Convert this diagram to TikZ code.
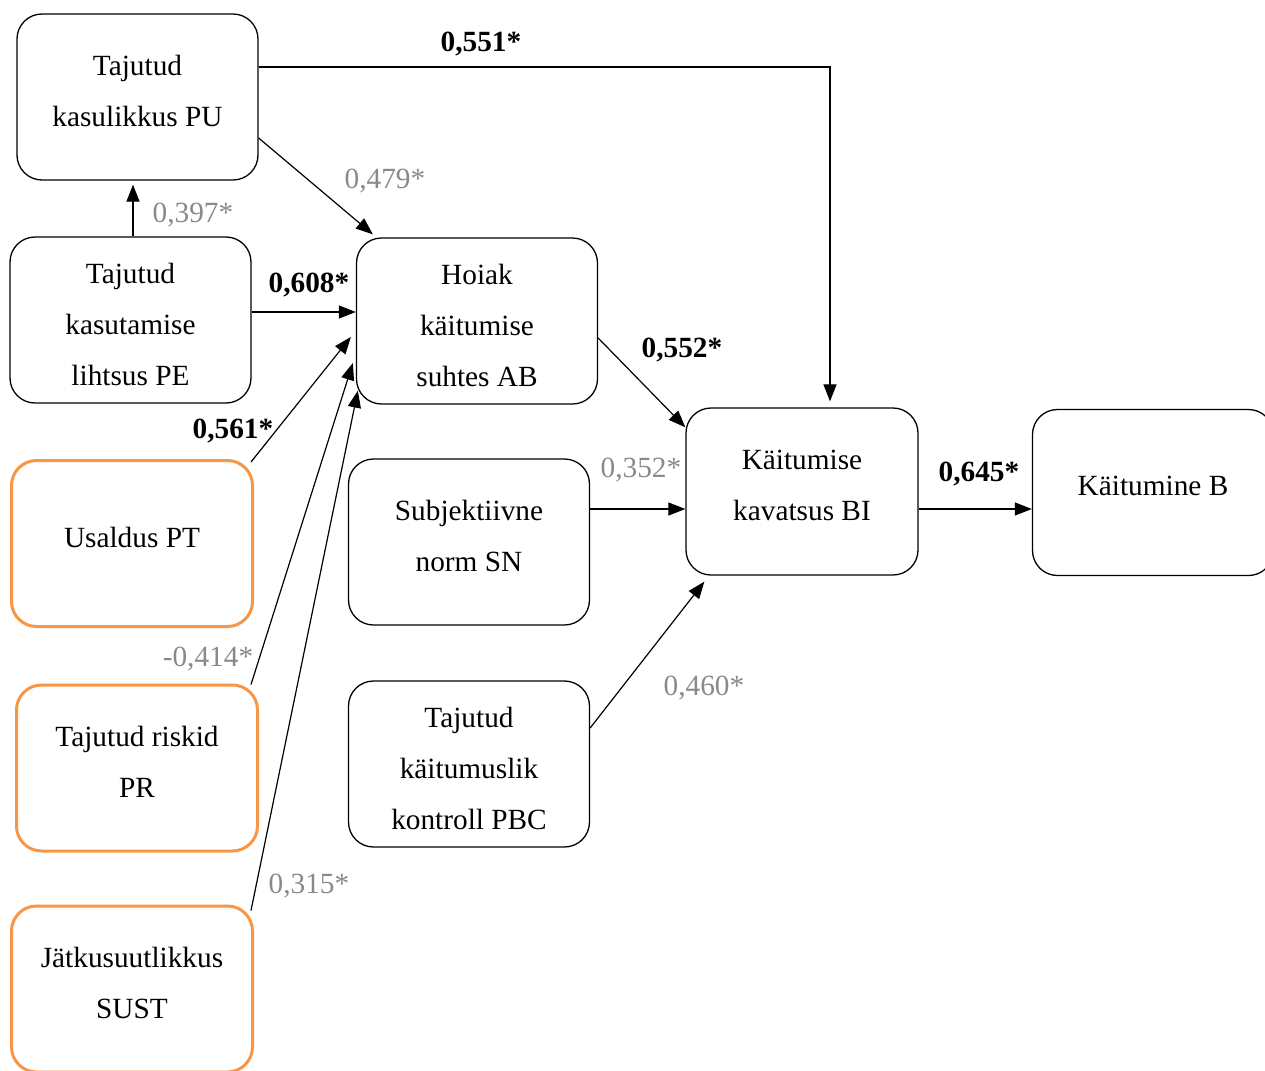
\documentclass[tikz,border=0pt]{standalone}
\usepackage{fontspec}
\setmainfont{Liberation Serif}
\usetikzlibrary{arrows.meta,calc}
\definecolor{coefgray}{RGB}{137,137,137}
\definecolor{boxorange}{RGB}{247,150,70}
\begin{document}
\begin{tikzpicture}[x=0.5pt,y=-0.5pt,
  box/.style={draw=black,line width=0.65pt,rounded corners=12.5pt,
    minimum width=120.5pt,minimum height=83pt,inner sep=0pt},
  obox/.style={box,draw=boxorange,line width=1.5pt},
  txt/.style={align=center,inner sep=0pt,font=\fontsize{14.65pt}{25.5pt}\selectfont},
  link/.style={line width=0.6pt,-{Triangle[length=8.5pt,width=6.5pt]}},
  coef/.style={inner sep=0pt,text=coefgray,font=\fontsize{14.65pt}{17pt}\selectfont},
  bcoef/.style={inner sep=0pt,font=\fontsize{14.65pt}{17pt}\selectfont\bfseries}]
\useasboundingbox (0,0) rectangle (1265,1071);

% construct boxes
\node[box]  (PU)   at (137.5,97)  {};
\node[box]  (PE)   at (130.5,320) {};
\node[box]  (AB)   at (477,321)   {};
\node[obox] (PT)   at (132,543.5) {};
\node[obox] (PR)   at (137,768)   {};
\node[obox] (SUST) at (132,989)   {};
\node[box]  (SN)   at (469,542)   {};
\node[box]  (PBC)  at (469,764)   {};
\node[box, minimum width=116pt, minimum height=83.5pt] (BI) at (802,491.5) {};
\node[box]  (B)    at (1153,492.5) {};

% box captions
\node[txt] (PUt)   at ($(PU.center)+(0,-6.5)$)  {Tajutud\\kasulikkus PU};
\node[txt] (PEt)   at ($(PE.center)+(0,4.5)$)   {Tajutud\\kasutamise\\lihtsus PE};
\node[txt] (ABt)   at ($(AB.center)+(0,4.5)$)   {Hoiak\\käitumise\\suhtes AB};
\node[txt] (PTt)   at ($(PT.center)+(0,-6.5)$)  {Usaldus PT};
\node[txt] (PRt)   at ($(PR.center)+(0,-6.5)$)  {Tajutud riskid\\PR};
\node[txt] (SUSTt) at ($(SUST.center)+(0,-6)$)  {Jätkusuutlikkus\\SUST};
\node[txt] (SNt)   at ($(SN.center)+(0,-6.5)$)  {Subjektiivne\\norm SN};
\node[txt] (PBCt)  at ($(PBC.center)+(0,4.5)$)  {Tajutud\\käitumuslik\\kontroll PBC};
\node[txt] (BIt)   at ($(BI.center)+(0,-6)$)    {Käitumise\\kavatsus BI};
\node[txt] (Bt)    at ($(B.center)+(0,-6.5)$)   {Käitumine B};

% paths
\draw[link] ($(PU.east)+(0,-30)$) -| ($(BI.north)+(28,-6)$);
\draw[link] ($(PU.east)+(0,41)$) -- ($(AB.north west)+(17,-3)$);
\draw[link] ($(PE.north)+(2.5,0)$) -- ($(PE.north |- PU.south)+(2.5,4)$);
\draw[link] ($(PE.east)+(0,-8)$) -- ($(AB.west)+(0,-9)$);
\draw[link] ($(PT.north east)+(-3,3)$) -- ($(AB.west)+(-5,16)$);
\draw[link] ($(PR.north east)+(-8,1)$) -- ($(AB.west)+(-3,42)$);
\draw[link] ($(SUST.north east)+(-3,6)$) -- ($(AB.south west)+(2,-14)$);
\draw[link] ($(AB.east)+(0,17)$) -- ($(BI.north west)+(0,20)$);
\draw[link] ($(SN.east)+(0,-33)$) -- ($(BI.west)+(0,17.5)$);
\draw[link] ($(PBC.east)+(0,-36)$) -- ($(BI.south west)+(19,6)$);
\draw[link] ($(BI.east)+(0,17.5)$) -- ($(B.west)+(0,16.5)$);

% path coefficients
\node[bcoef] (c551) at (481,44)    {0,551*};
\node[coef]  (c479) at (385,181.5) {0,479*};
\node[coef]  (c397) at (193,215.5) {0,397*};
\node[bcoef] (c608) at (309,285.5) {0,608*};
\node[bcoef] (c561) at (233,431.5) {0,561*};
\node[coef]  (c414) at (208,659.5) {-0,414*};
\node[coef]  (c315) at (309,886.5) {0,315*};
\node[bcoef] (c552) at (682,350.5) {0,552*};
\node[coef]  (c352) at (641,470.5) {0,352*};
\node[coef]  (c460) at (704,688.5) {0,460*};
\node[bcoef] (c645) at (979,474.5) {0,645*};
\end{tikzpicture}
\end{document}
